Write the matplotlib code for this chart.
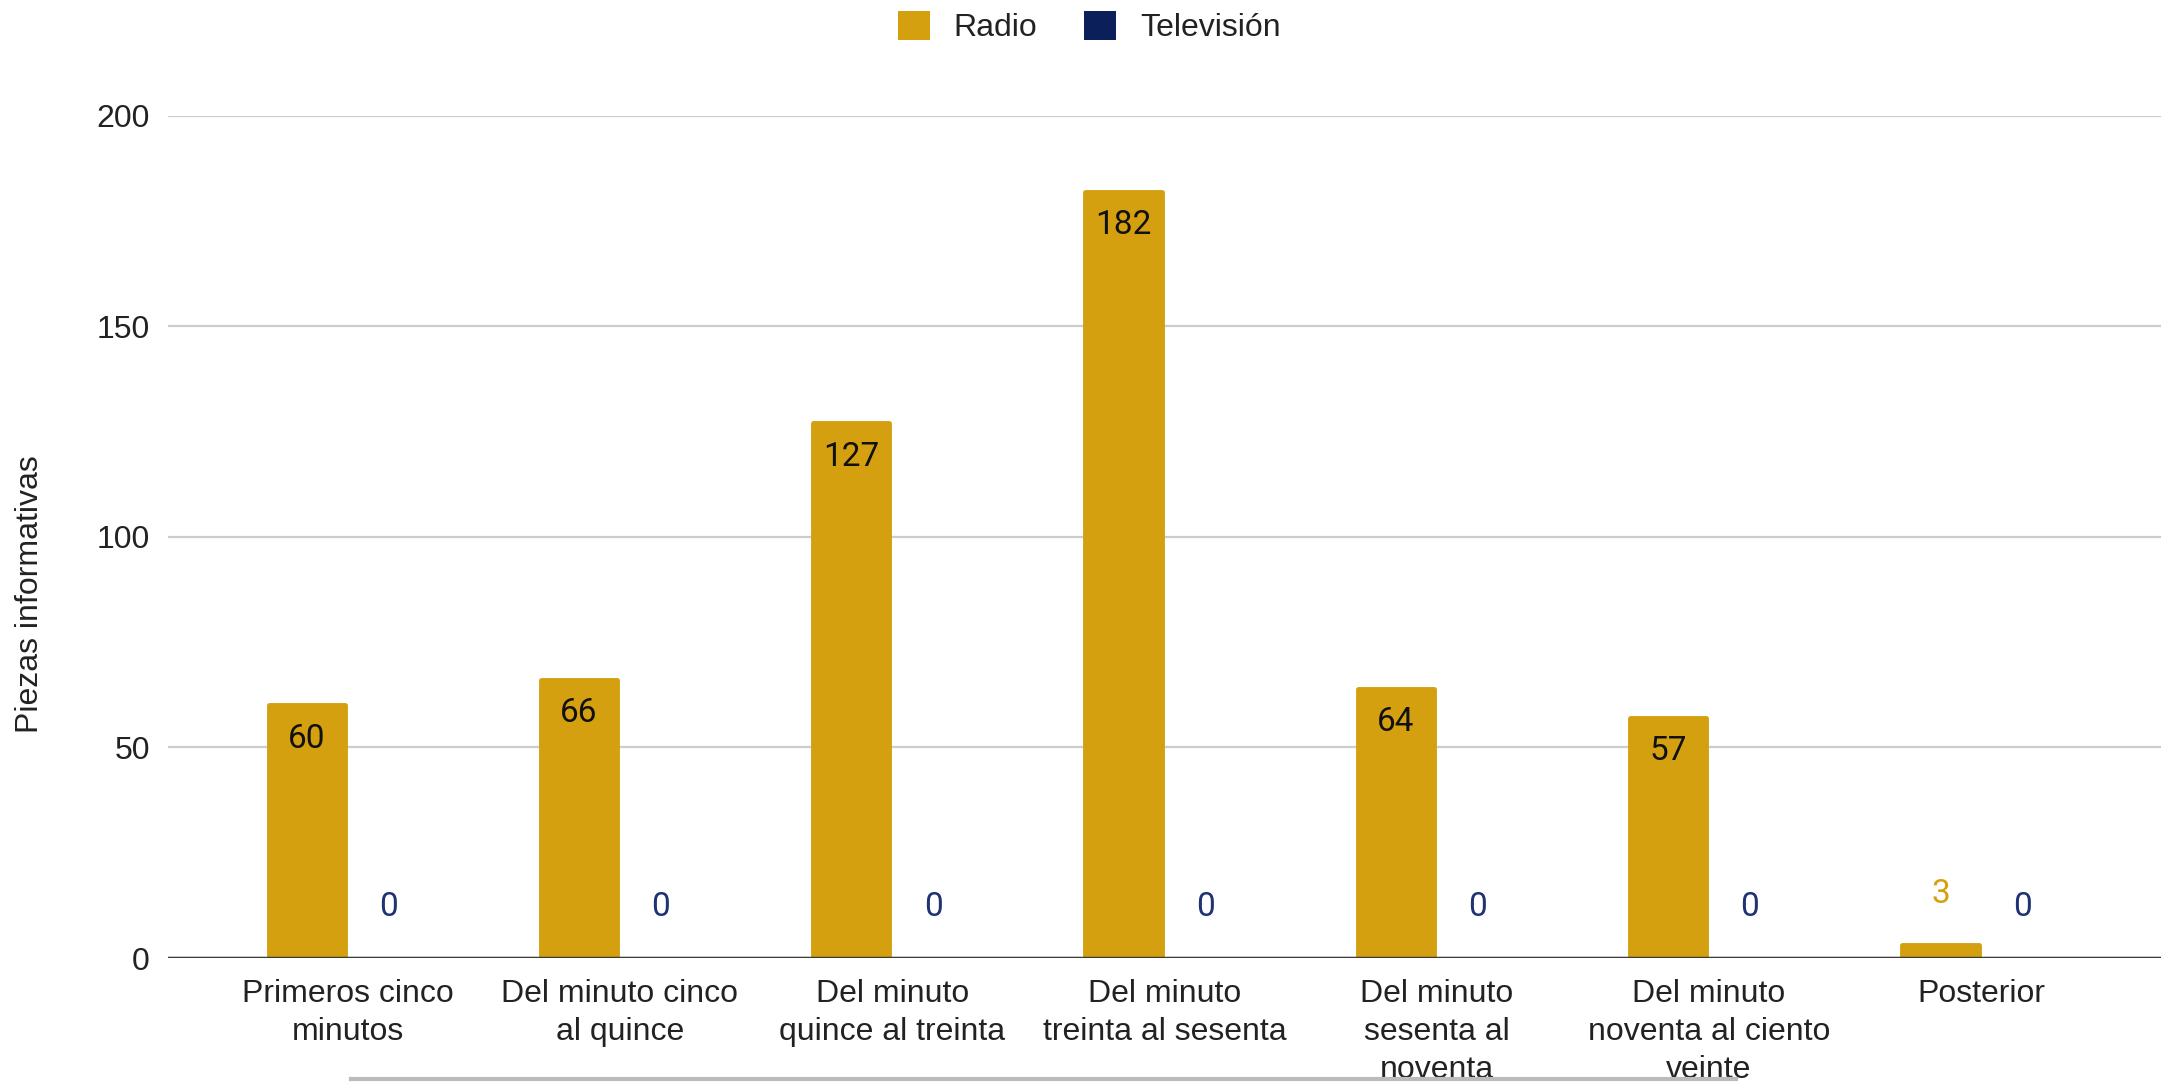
import matplotlib
matplotlib.use("Agg")
import matplotlib.pyplot as plt
import numpy as np
from matplotlib.lines import Line2D
from matplotlib.patches import Patch

categories = ["Primeros cinco\nminutos", "Del minuto cinco\nal quince", "Del minuto\nquince al treinta",
              "Del minuto\ntreinta al sesenta", "Del minuto\nsesenta al\nnoventa",
              "Del minuto\nnoventa al ciento\nveinte", "Posterior"]
radio = [60, 66, 127, 182, 64, 57, 3]
television = [0, 0, 0, 0, 0, 0, 0]
series_names = ["Radio", "Televisión"]
yticks = [0, 50, 100, 150, 200]

RADIO_C = "#D5A010"
TV_C = "#0B1F5A"
TV_LABEL_C = "#1F3373"
TXT = "#222222"

plt.rcParams['font.family'] = ['Liberation Sans', 'DejaVu Sans']

fig = plt.figure(figsize=(21.61, 10.83), dpi=100)
ax = fig.add_axes([0.0777, 0.1154, 0.9223, 0.7776])

x = np.arange(len(categories))
w = 0.30
ax.bar(x - w/2, radio, width=w - 0.02, color=RADIO_C, edgecolor=RADIO_C, linewidth=3.5,
       joinstyle='round', zorder=3)
ax.bar(x + w/2, television, width=w - 0.02, color=TV_C, zorder=3)

ax.set_xlim(-0.66, 6.66)
ax.set_ylim(0, 200)
ax.set_yticks(yticks)
ax.set_yticklabels([str(t) for t in yticks], fontsize=23, color=TXT)
ax.set_xticks(x)
ax.set_xticklabels(categories, fontsize=23, linespacing=1.35, color=TXT)
ax.tick_params(axis='both', length=0)
ax.tick_params(axis='y', pad=13)
ax.tick_params(axis='x', pad=15)
ax.grid(axis='y', color='#CCCCCC', linewidth=1.6, zorder=0)
for s in ax.spines.values():
    s.set_visible(False)
ax.axhline(0, color='#3A3A3A', linewidth=2.5, zorder=4)

fig.text(30/2161, 1 - 594/1083, "Piezas informativas", rotation=90, fontsize=23,
         color=TXT, ha='center', va='center')

for xi, v in zip(x, radio):
    if v > 20:
        ax.annotate(str(v), (xi - w/2, v), xytext=(0, -24), textcoords='offset points',
                    ha='center', va='center', fontsize=24, color='#111111',
                    family=['Roboto', 'DejaVu Sans'], zorder=5)
    else:
        ax.annotate(str(v), (xi - w/2, v), xytext=(0, 37), textcoords='offset points',
                    ha='center', va='center', fontsize=24, color=RADIO_C,
                    family=['Roboto', 'DejaVu Sans'], zorder=5)
for xi, v in zip(x, television):
    ax.annotate(str(v), (xi + w/2, v), xytext=(0, 37), textcoords='offset points',
                ha='center', va='center', fontsize=24, color=TV_LABEL_C,
                family=['Roboto', 'DejaVu Sans'], zorder=5)

handles = [Patch(facecolor=RADIO_C, edgecolor='none'), Patch(facecolor=TV_C, edgecolor='none')]
fig.legend(handles, series_names, loc='center', bbox_to_anchor=(0.504, 0.975), ncol=2,
           frameon=False, fontsize=23, handlelength=1.0, handleheight=1.0,
           columnspacing=1.45, handletextpad=0.75, labelcolor=TXT)

fig.add_artist(Line2D([351/2161, 1736/2161], [1 - 1079/1083] * 2, color='#BBBBBB', linewidth=3,
                      transform=fig.transFigure))

fig.savefig("out.png", dpi=100)
